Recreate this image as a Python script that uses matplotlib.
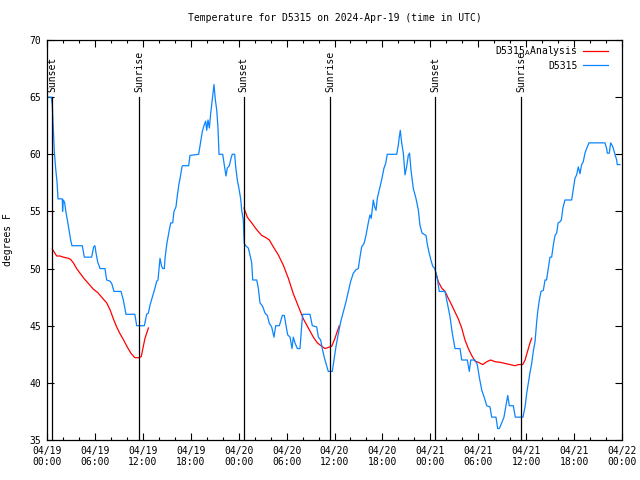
import numpy as np
import matplotlib
matplotlib.use("Agg")
import matplotlib.pyplot as plt
from matplotlib.ticker import MultipleLocator

nan = float("nan")

# hours since 2024-04-19 00:00 UTC
obs_hours = [0.0, 0.55, 0.66, 0.79, 0.92, 1.08, 1.25, 1.38, 1.92, 1.95, 2.04, 2.2, 2.38, 2.55, 2.75, 2.96,
             3.13, 4.42, 4.67, 5.59, 5.84, 6.0, 6.13, 6.34, 6.64, 7.26, 7.47, 7.89, 8.1, 8.39, 9.27, 9.56,
             9.89, 11.0, 11.23, 12.19, 12.48, 12.69, 12.9, 13.19, 13.52, 13.74, 13.9, 14.15, 14.35, 14.49,
             14.69, 14.78, 14.99, 15.32, 15.49, 15.74, 15.9, 16.15, 16.32, 16.5, 16.74, 16.9, 16.99, 17.74,
             17.9, 18.99, 19.24, 19.45, 19.7, 19.87, 20.0, 20.16, 20.33, 20.5, 20.66, 20.83, 20.91, 21.08,
             21.25, 21.41, 21.54, 22.0, 22.17, 22.41, 22.58, 22.83, 23.04, 23.2, 23.5, 23.63, 23.83, 24.04,
             24.25, 24.38, 24.58, 24.7, 24.88, 25.2, 25.42, 25.63, 25.76, 26.26, 26.46, 26.67, 27.0, 27.3,
             27.59, 27.84, 28.13, 28.42, 28.64, 29.09, 29.47, 29.72, 29.93, 30.14, 30.43, 30.68, 30.84,
             31.05, 31.35, 31.68, 31.89, 32.02, 32.93, 33.22, 33.77, 33.98, 34.27, 34.47, 34.69, 34.94,
             35.22, 35.72, 35.94, 36.19, 36.48, 36.78, 37.1, 37.44, 37.73, 38.03, 38.36, 38.69, 38.98,
             39.19, 39.4, 39.7, 39.94, 40.23, 40.44, 40.6, 40.86, 41.03, 41.2, 41.36, 41.61, 41.9, 42.2,
             42.41, 42.6, 43.79, 43.99, 44.11, 44.24, 44.41, 44.62, 44.83, 45.03, 45.24, 45.4, 45.58,
             45.87, 46.2, 46.5, 46.7, 46.96, 47.46, 47.63, 47.87, 48.13, 48.3, 48.55, 48.75, 48.9, 49.12,
             49.84, 50.12, 50.46, 50.76, 51.09, 51.72, 51.93, 52.63, 52.88, 53.06, 53.59, 53.88, 54.13,
             54.43, 54.85, 55.06, 55.47, 55.68, 56.22, 56.43, 56.63, 56.94, 57.22, 57.47, 57.69, 57.89,
             58.39, 58.64, 59.6, 59.86, 60.07, 60.27, 60.48, 60.69, 60.9, 61.11, 61.32, 61.44, 61.65,
             61.86, 62.15, 62.36, 62.55, 62.77, 62.98, 63.19, 63.4, 63.61, 63.82, 64.0, 64.24, 64.4, 64.6,
             64.86, 65.7, 65.9, 66.11, 66.32, 66.53, 66.74, 66.95, 67.15, 67.36, 67.57, 67.86, 69.87,
             70.08, 70.16, 70.41, 70.58, 70.83, 71.08, 71.33, 71.41, 71.74]
obs_temps = [65.0, 65.0, 64.3, 62.3, 60.2, 58.8, 57.6, 56.1, 56.1, 55.0, 56.0, 55.8, 54.9, 54.25, 53.4, 52.5,
             52.0, 52.0, 51.0, 51.0, 51.9, 52.0, 51.4, 50.6, 50.0, 50.0, 49.0, 48.9, 48.7, 48.0, 48.0, 47.25,
             46.0, 46.0, 45.0, 45.0, 46.0, 46.1, 46.8, 47.5, 48.3, 48.9, 49.0, 50.9, 50.2, 50.0,
             50.0, 50.9, 52.1, 53.4, 54.0, 54.0, 55.0, 55.4, 56.4, 57.3, 58.2, 58.9, 59.0, 59.0,
             59.9, 60.0, 61.1, 62.0, 62.6, 62.9, 62.1, 63.0, 62.3, 63.6, 64.6, 65.6, 66.1, 64.75,
             63.9, 62.3, 60.0, 60.0, 59.2, 58.1, 58.8, 59.0, 59.65, 60.0, 60.0, 58.9, 57.75, 57.0,
             56.1, 55.1, 54.25, 52.2, 52.0, 51.8, 51.2, 50.5, 49.0, 49.0, 48.3, 47.0, 46.7, 46.1,
             45.9, 45.2, 44.9, 44.0, 45.0, 45.0, 45.9, 45.9, 45.0, 44.2, 44.0, 43.0, 44.0,
             43.5, 43.0, 43.0, 45.0, 46.0, 46.0, 45.0, 44.9, 44.0, 43.75, 43.0, 42.3, 41.7,
             41.0, 41.0, 42.0, 43.2, 44.3, 45.35, 46.2, 47.1, 48.0, 48.9, 49.6, 49.9, 50.0,
             51.0, 51.9, 52.2, 52.9, 54.0, 54.7, 54.4, 56.0, 55.4, 55.1, 56.15, 56.9, 57.75, 58.8,
             59.2, 60.0, 60.0, 60.8, 61.5, 62.1, 61.0, 60.1, 58.2, 58.9, 59.9, 60.1, 58.6,
             57.0, 56.15, 55.1, 53.8, 53.1, 52.9, 52.1, 51.3, 50.6, 50.2, 50.0, 49.5, 49.0, 48.0,
             48.0, 47.0, 45.8, 44.3, 43.0, 43.0, 42.0, 42.0, 41.0, 42.0, 42.0, 41.6, 40.5,
             39.4, 38.5, 38.0, 37.9, 37.0, 37.0, 36.0, 36.0, 36.5, 37.0, 38.0, 38.9, 38.0,
             38.0, 37.0, 37.0, 37.9, 39.1, 40.0, 40.9, 41.7, 42.8, 43.6, 45.35, 46.2, 47.25,
             48.0, 48.1, 49.0, 49.0, 50.0, 51.0, 51.0, 52.06, 52.9, 53.1, 54.0, 54.1, 54.25, 55.3,
             56.0, 56.0, 56.9, 57.9, 58.2, 58.9, 58.3, 59.1, 59.35, 60.1, 60.5, 61.0, 61.0,
             60.5, 60.1, 60.1, 61.0, 60.7, 60.1, 59.5, 59.1, 59.1]

# analysis, three nightly segments separated by nan
ana_hours = [0.67, 1.21, 1.63, 2.04, 2.67, 2.96, 3.3, 3.71, 4.13, 4.67, 5.18, 5.8, 6.35, 6.84, 7.47, 7.89,
             8.31, 8.72, 9.14, 9.56, 10.0, 10.5, 11.0, 11.5, 11.8, 12.27, 12.7, nan,
             24.67, 25.08, 25.63, 26.26, 26.88, 27.42, 27.84, 28.34, 28.96, 29.59, 30.22, 30.84, 31.47,
             32.1, 32.72, 33.35, 33.85, 34.4, 34.81, 35.22, 35.65, 36.06, 36.35, 36.6, nan,
             48.71, 49.0, 49.42, 49.84, 50.25, 50.68, 51.09, 51.5, 51.93, 52.34, 52.76, 53.18, 53.59,
             54.01, 54.56, 55.06, 55.56, 56.1, 56.72, 57.35, 57.98, 58.6, 59.02, 59.57, 59.86, 60.15,
             60.48, 60.69]
ana_temps = [51.7, 51.1, 51.1, 51.0, 50.9, 50.8, 50.5, 50.0, 49.6, 49.1, 48.7, 48.2, 47.9, 47.5, 47.0, 46.4,
             45.6, 44.9, 44.3, 43.8, 43.2, 42.6, 42.2, 42.2, 42.3, 43.9, 44.8, nan,
             55.3, 54.5, 54.0, 53.4, 52.9, 52.7, 52.5, 51.9, 51.2, 50.3, 49.15, 47.8, 46.7,
             45.6, 44.8, 44.0, 43.5, 43.2, 43.0, 43.1, 43.2, 43.9, 44.5, 45.0, nan,
             49.6, 48.85, 48.3, 48.0, 47.4, 46.8, 46.2, 45.6, 44.8, 43.75, 43.0, 42.4, 41.9,
             41.8, 41.6, 41.85, 42.0, 41.85, 41.8, 41.7, 41.6, 41.5, 41.6, 41.6, 42.0, 42.7,
             43.5, 43.9]

sun_hours = [0.62, 11.52, 24.65, 35.45, 48.6, 59.35]
sun_labels = ["Sunset", "Sunrise", "Sunset", "Sunrise", "Sunset", "Sunrise"]

tick_hours = [0, 6, 12, 18, 24, 30, 36, 42, 48, 54, 60, 66, 72]
tick_labels = ["04/19\n00:00", "04/19\n06:00", "04/19\n12:00", "04/19\n18:00",
               "04/20\n00:00", "04/20\n06:00", "04/20\n12:00", "04/20\n18:00",
               "04/21\n00:00", "04/21\n06:00", "04/21\n12:00", "04/21\n18:00",
               "04/22\n00:00"]

plt.rcParams['font.family'] = ['DejaVu Sans Mono']
plt.rcParams['font.size'] = 7

fig = plt.figure(figsize=(6.4, 4.8), dpi=100)
ax = fig.add_axes([47 / 640, 40 / 480, 575 / 640, 400 / 480])

ax.plot(ana_hours, ana_temps, color='#ff0000', lw=0.9, label=r'D5315$_{\mathrm{A}}$Analysis')
ax.plot(obs_hours, obs_temps, color='#0a84ff', lw=0.9, label='D5315')

for h, lab in zip(sun_hours, sun_labels):
    ax.plot([h, h], [35, 65], color='black', lw=0.9)
    ax.text(h, 65.45, lab, rotation=90, ha='center', va='bottom', fontsize=7)

ax.set_xlim(0, 72)
ax.set_ylim(35, 70)
ax.set_xticks(tick_hours)
ax.set_xticklabels(tick_labels)
ax.xaxis.set_minor_locator(MultipleLocator(2))
ax.yaxis.set_major_locator(MultipleLocator(5))
ax.tick_params(which='both', direction='in', top=True, right=True, width=0.8)
ax.tick_params(which='major', length=5, pad=4)
ax.tick_params(which='minor', length=2.5)
for s in ax.spines.values():
    s.set_linewidth(0.9)

ax.set_title('Temperature for D5315 on 2024-Apr-19 (time in UTC)', fontsize=7, pad=14)
ax.set_ylabel('degrees F', labelpad=12)
ax.legend(loc='upper right', bbox_to_anchor=(1 - 10 / 575, 1.0), frameon=False, markerfirst=False,
          handlelength=2.5, borderaxespad=0.05, labelspacing=0.25, handletextpad=0.6, fontsize=7)

fig.savefig('out.png', dpi=100)
